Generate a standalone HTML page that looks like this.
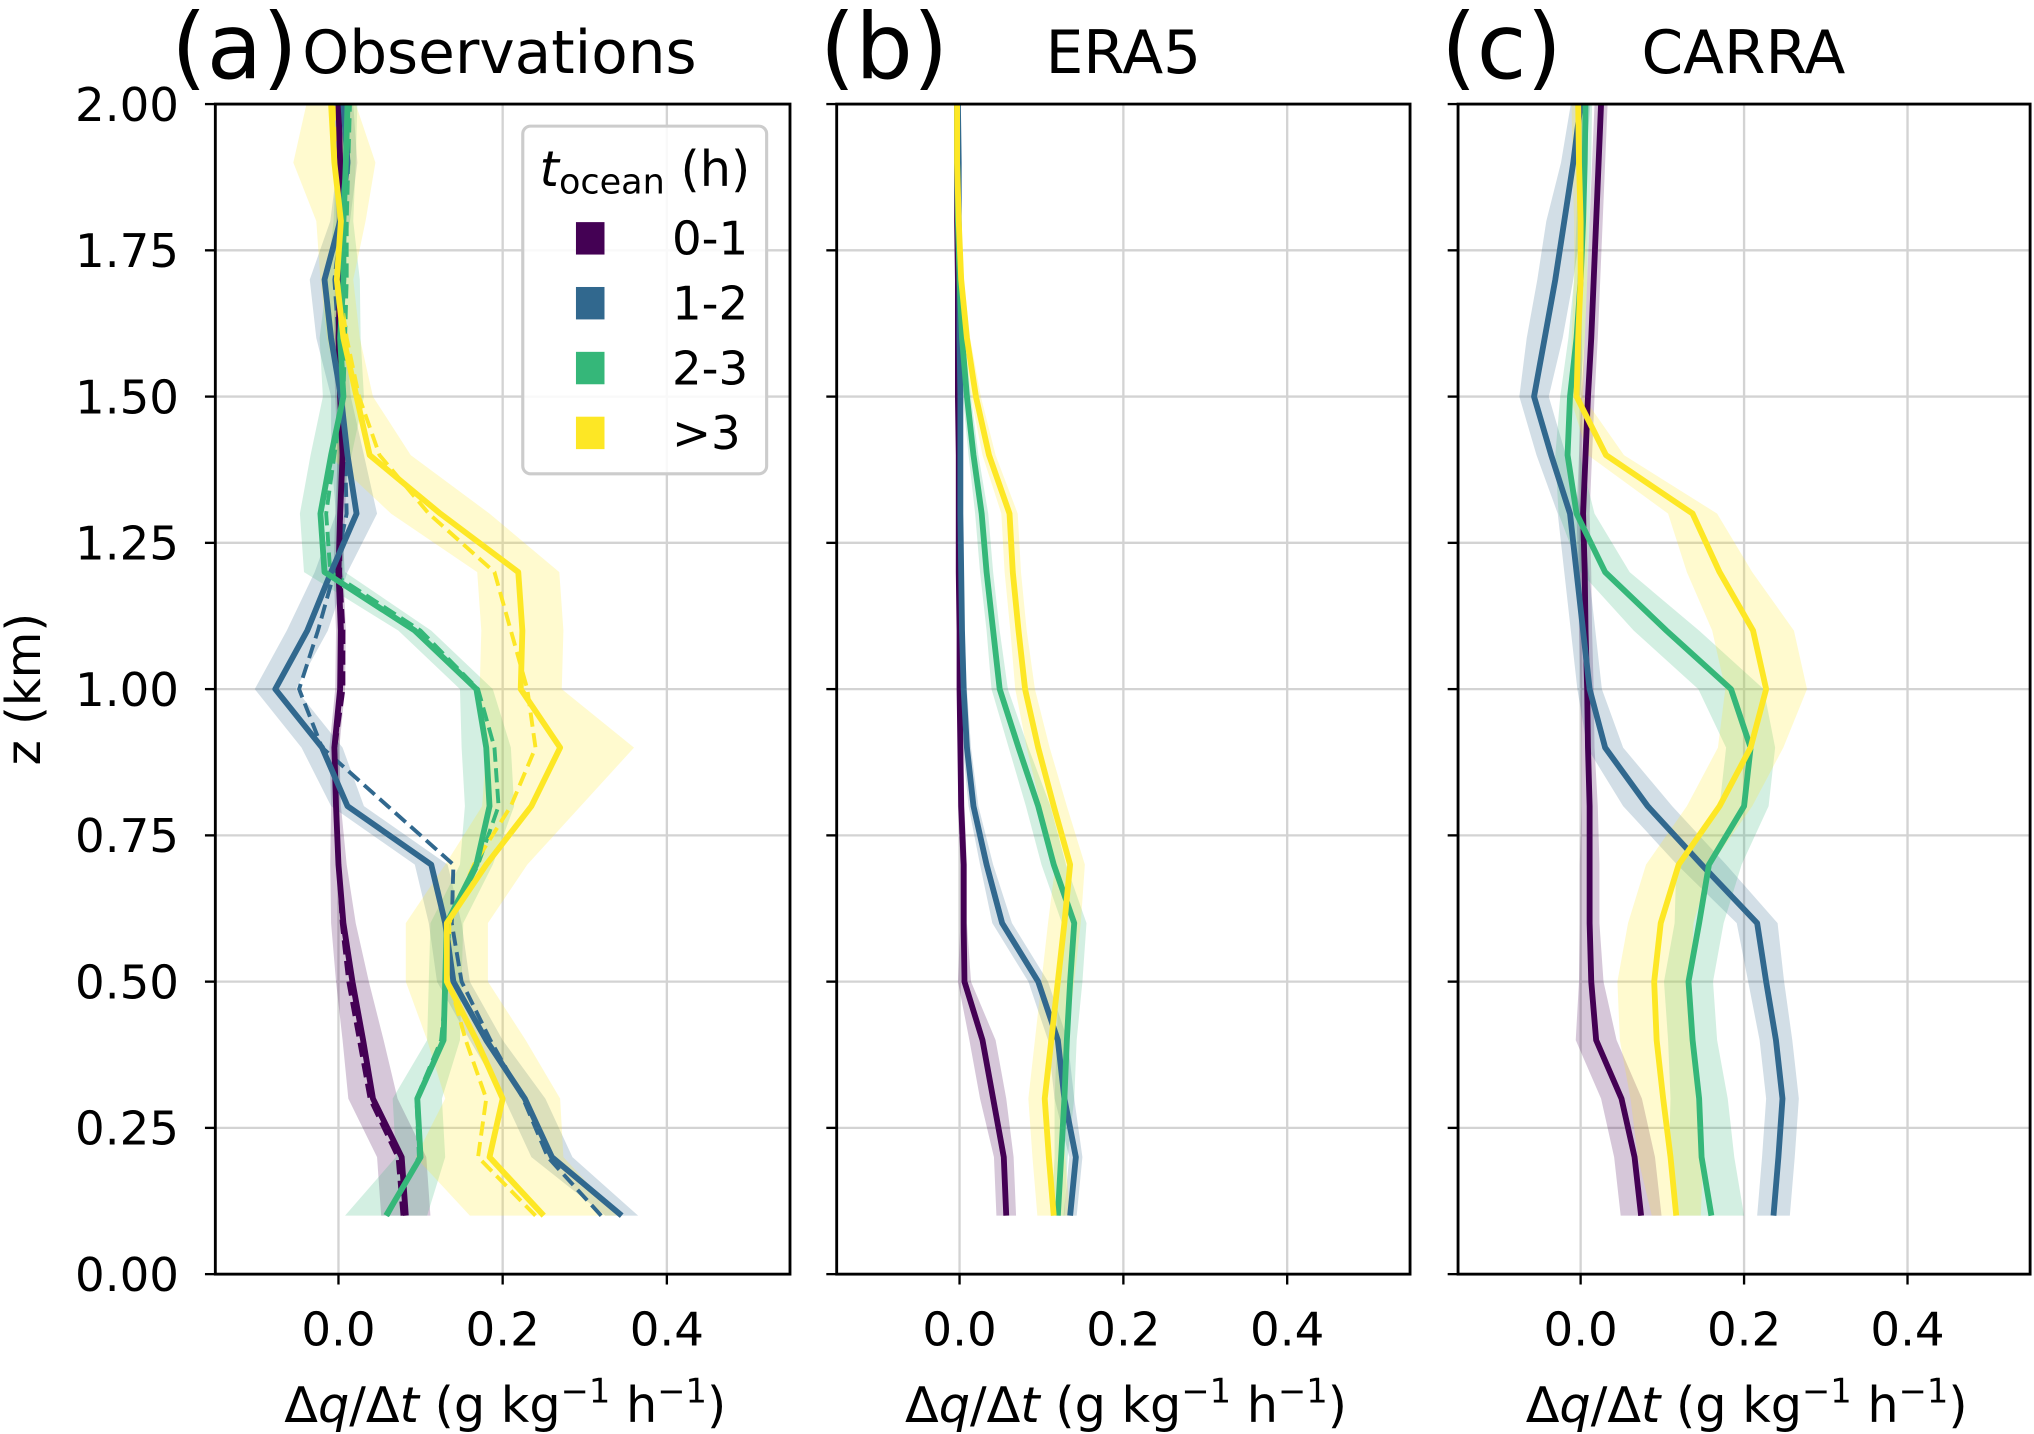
<!DOCTYPE html>
<html><head><meta charset="utf-8"><style>
html,body{margin:0;padding:0;background:#fff;}
svg{display:block;font-family:"DejaVu Sans","Liberation Sans",sans-serif;}
</style></head><body>
<svg id="chart" width="2034" height="1434" viewBox="0 0 1568 1105" xmlns="http://www.w3.org/2000/svg"></svg>
<script>
const zLevels=[0.1,0.2,0.3,0.4,0.5,0.6,0.7,0.8,0.9,1.0,1.1,1.2,1.3,1.4,1.5,1.6,1.7,1.8,1.9,2.0];
const seriesNames=["0-1","1-2","2-3",">3"];
const xTicks=[0.0,0.2,0.4];
const yTicks=[0.00,0.25,0.50,0.75,1.00,1.25,1.50,1.75,2.00];
// Observations
const obs01=[0.082,0.077,0.042,0.030,0.017,0.006,0.000,-0.003,-0.005,0.002,0.003,0.000,0.002,0.005,0.002,0.000,0.002,0.003,0.002,0.000];
const obs12=[0.345,0.260,0.227,0.180,0.140,0.130,0.113,0.011,-0.020,-0.077,-0.038,-0.009,0.022,0.011,0.003,-0.009,-0.017,0.002,0.011,0.006];
const obs23=[0.058,0.100,0.096,0.128,0.130,0.132,0.168,0.184,0.180,0.168,0.093,-0.017,-0.022,-0.009,0.006,0.002,0.006,0.006,0.009,0.011];
const obs3=[0.250,0.184,0.200,0.168,0.132,0.132,0.180,0.235,0.270,0.222,0.224,0.219,0.124,0.038,0.022,0.006,-0.002,0.003,-0.005,-0.009];
const obs01d=[0.078,0.072,0.038,0.025,0.012,0.004,0.000,-0.003,-0.004,0.006,0.006,0.002,0.003,0.004,0.003,0.002,0.004,0.005,0.003,0.001];
const obs12d=[0.320,0.255,0.225,0.185,0.150,0.138,0.140,0.060,-0.020,-0.048,-0.025,-0.005,0.010,0.008,0.004,0.000,-0.005,0.004,0.010,0.008];
const obs23d=[0.060,0.098,0.095,0.125,0.132,0.135,0.170,0.195,0.190,0.170,0.100,-0.010,-0.015,-0.005,0.006,0.008,0.010,0.010,0.012,0.014];
const obs3d=[0.240,0.170,0.180,0.155,0.135,0.135,0.165,0.210,0.240,0.230,0.210,0.190,0.110,0.050,0.025,0.010,0.000,0.003,-0.002,-0.005];
const obsSpread01=[0.03,0.03,0.03,0.025,0.02,0.015,0.01,0.006,0.006,0.006,0.006,0.006,0.006,0.006,0.006,0.006,0.006,0.006,0.006,0.006];
const obsSpread12=[0.02,0.025,0.025,0.02,0.02,0.02,0.02,0.02,0.025,0.025,0.025,0.02,0.025,0.02,0.012,0.018,0.018,0.012,0.012,0.012];
const obsSpread23=[0.05,0.03,0.03,0.02,0.02,0.02,0.02,0.03,0.03,0.02,0.02,0.025,0.025,0.025,0.025,0.025,0.02,0.012,0.012,0.012];
const obsSpread3=[0.09,0.09,0.07,0.06,0.05,0.05,0.05,0.06,0.09,0.05,0.05,0.05,0.06,0.05,0.02,0.02,0.02,0.03,0.05,0.03];
// ERA5
const era01=[0.057,0.054,0.041,0.028,0.006,0.005,0.005,0.002,0.001,0.000,0.000,-0.001,-0.001,-0.001,-0.002,-0.002,-0.002,-0.003,-0.003,-0.003];
const era12=[0.135,0.142,0.128,0.120,0.096,0.052,0.033,0.017,0.009,0.005,0.003,0.002,0.001,0.001,0.001,0.000,0.000,-0.001,-0.001,-0.002];
const era23=[0.120,0.124,0.128,0.131,0.135,0.140,0.115,0.096,0.072,0.049,0.041,0.033,0.027,0.017,0.009,0.003,0.000,-0.002,-0.003,-0.003];
const era3=[0.115,0.109,0.104,0.112,0.120,0.128,0.135,0.115,0.096,0.080,0.072,0.065,0.061,0.036,0.020,0.009,0.002,-0.001,-0.003,-0.003];
const eraSpread01=[0.012,0.012,0.016,0.016,0.008,0.004,0.004,0.004,0.003,0.002,0.002,0.002,0.002,0.002,0.002,0.002,0.002,0.002,0.002,0.002];
const eraSpread12=[0.008,0.008,0.012,0.012,0.012,0.012,0.008,0.006,0.005,0.004,0.003,0.003,0.002,0.002,0.002,0.002,0.002,0.002,0.002,0.002];
const eraSpread23=[0.008,0.008,0.012,0.012,0.015,0.015,0.015,0.015,0.012,0.01,0.008,0.008,0.008,0.006,0.005,0.003,0.002,0.002,0.002,0.002];
const eraSpread3=[0.02,0.02,0.02,0.02,0.02,0.02,0.018,0.016,0.014,0.012,0.01,0.01,0.01,0.008,0.006,0.004,0.003,0.002,0.002,0.002];
// CARRA
const car01=[0.074,0.066,0.050,0.019,0.013,0.011,0.011,0.011,0.009,0.008,0.006,0.005,0.003,0.006,0.009,0.013,0.016,0.019,0.022,0.025];
const car12=[0.236,0.242,0.247,0.239,0.227,0.216,0.148,0.082,0.030,0.011,0.003,-0.005,-0.013,-0.036,-0.057,-0.044,-0.031,-0.020,-0.009,0.000];
const car23=[0.160,0.148,0.145,0.137,0.132,0.145,0.157,0.200,0.208,0.184,0.105,0.030,-0.005,-0.016,-0.013,-0.005,0.000,0.003,0.005,0.006];
const car3=[0.117,0.110,0.101,0.093,0.090,0.098,0.120,0.170,0.208,0.227,0.211,0.170,0.137,0.031,-0.005,-0.003,0.000,0.000,-0.002,-0.003];
const carSpread01=[0.025,0.025,0.025,0.025,0.015,0.012,0.012,0.01,0.008,0.008,0.008,0.008,0.008,0.008,0.008,0.008,0.008,0.008,0.008,0.008];
const carSpread12=[0.02,0.02,0.02,0.02,0.022,0.025,0.03,0.03,0.022,0.015,0.015,0.015,0.015,0.018,0.018,0.022,0.022,0.022,0.015,0.012];
const carSpread23=[0.04,0.04,0.035,0.03,0.03,0.03,0.04,0.03,0.03,0.04,0.04,0.03,0.022,0.015,0.012,0.01,0.008,0.008,0.008,0.008];
const carSpread3=[0.03,0.04,0.04,0.045,0.045,0.04,0.04,0.04,0.04,0.05,0.05,0.04,0.03,0.022,0.008,0.008,0.008,0.008,0.008,0.008];

const colors=["#440154","#31688e","#35b779","#fde725"];
const NS="http://www.w3.org/2000/svg";
const svg=document.getElementById("chart");
const XMIN=-0.15,XMAX=0.55,YTOP=80,YBOT=982;
const panels=[
 {id:"a",left:166,right:609,label:"(a)",labelX:132,title:"Observations",titleX:385,yLabels:true,
  solid:[obs01,obs12,obs23,obs3],dashed:[obs01d,obs12d,obs23d,obs3d],spread:[obsSpread01,obsSpread12,obsSpread23,obsSpread3]},
 {id:"b",left:645,right:1087,label:"(b)",labelX:632,title:"ERA5",titleX:866,yLabels:false,
  solid:[era01,era12,era23,era3],dashed:null,spread:[eraSpread01,eraSpread12,eraSpread23,eraSpread3]},
 {id:"c",left:1124,right:1565,label:"(c)",labelX:1111,title:"CARRA",titleX:1344,yLabels:false,
  solid:[car01,car12,car23,car3],dashed:null,spread:[carSpread01,carSpread12,carSpread23,carSpread3]}
];
function mk(tag,attrs,parent){const e=document.createElementNS(NS,tag);for(const k in attrs)e.setAttribute(k,attrs[k]);(parent||svg).appendChild(e);return e;}
panels.forEach(p=>{
 const xs=v=>p.left+(v-XMIN)/(XMAX-XMIN)*(p.right-p.left);
 const ys=z=>YBOT-(z/2.0)*(YBOT-YTOP);
 const g=mk("g",{});
 
 
 xTicks.forEach(t=>{
  const l=mk("line",{x1:xs(t),x2:xs(t),y1:YTOP,y2:YBOT,stroke:"#d3d3d3","stroke-width":1.8},g);
  
  
  const tk=mk("line",{x1:xs(t),x2:xs(t),y1:YBOT,y2:YBOT+8,stroke:"#000","stroke-width":1.8},g);
  
  
  const tx=mk("text",{x:xs(t),y:YBOT+55,"text-anchor":"middle","font-size":36},g);
  tx.textContent=t.toFixed(1);
  
  
 });
 yTicks.forEach(t=>{
  if(t>0&&t<2){const l=mk("line",{x1:p.left,x2:p.right,y1:ys(t),y2:ys(t),stroke:"#d3d3d3","stroke-width":1.8},g);
  
  }
  const tk=mk("line",{x1:p.left-8,x2:p.left,y1:ys(t),y2:ys(t),stroke:"#000","stroke-width":1.8},g);
  
  
  if(p.yLabels){const tx=mk("text",{x:p.left-28,y:ys(t)+13,"text-anchor":"end","font-size":36},g);
   tx.textContent=t.toFixed(2);
   
   }
 });
 p.solid.forEach((s,i)=>{
  const sp=p.spread[i];
  let pts=zLevels.map((z,k)=>xs(s[k]-sp[k])+","+ys(z));
  for(let k=zLevels.length-1;k>=0;k--)pts.push(xs(s[k]+sp[k])+","+ys(zLevels[k]));
  const b=mk("polygon",{points:pts.join(" "),fill:colors[i],"fill-opacity":0.22,stroke:"none"},g);
  
  
 });
 if(p.dashed)p.dashed.forEach((s,i)=>{
  const l=mk("polyline",{points:zLevels.map((z,k)=>xs(s[k])+","+ys(z)).join(" "),fill:"none",stroke:colors[i],"stroke-width":3,"stroke-dasharray":"11,5"},g);
  
  
 });
 p.solid.forEach((s,i)=>{
  const l=mk("polyline",{points:zLevels.map((z,k)=>xs(s[k])+","+ys(z)).join(" "),fill:"none",stroke:colors[i],"stroke-width":4.5,"stroke-linejoin":"round"},g);
  
  
 });
 const fr=mk("rect",{x:p.left,y:YTOP,width:p.right-p.left,height:YBOT-YTOP,fill:"none",stroke:"#000","stroke-width":2.2},g);
 
 
 const lb=mk("text",{x:p.labelX,y:60,"font-size":70},g);
 lb.textContent=p.label;
 
 
 const tt=mk("text",{x:p.titleX,y:56,"text-anchor":"middle","font-size":46},g);
 tt.textContent=p.title;
 
 
 const xl=mk("text",{x:(p.left+p.right)/2+2,y:1096,"text-anchor":"middle","font-size":38},g);
 xl.innerHTML='Δ<tspan font-style="italic">q</tspan>/Δ<tspan font-style="italic">t</tspan> (g kg<tspan dy="-15" font-size="26">−1</tspan><tspan dy="15"> h</tspan><tspan dy="-15" font-size="26">−1</tspan><tspan dy="15">)</tspan>';
 
 
});
const yl=mk("text",{x:0,y:0,"text-anchor":"middle","font-size":37,transform:"translate(31,531) rotate(-90)"});
yl.textContent="z (km)";


const lg=mk("g",{});


mk("rect",{x:403,y:97,width:188,height:268,rx:6,fill:"#fff","fill-opacity":0.85,stroke:"#cccccc","stroke-width":2.4},lg);
const lt=mk("text",{x:416,y:143,"font-size":38},lg);
lt.innerHTML='<tspan font-style="italic">t</tspan><tspan font-size="27" dy="6">ocean</tspan><tspan dy="-6"> (h)</tspan>';


seriesNames.forEach((n,i)=>{
 const y=183+i*50;
 const r=mk("rect",{x:444,y:y-12,width:22,height:25,fill:colors[i]},lg);
 
 
 const t=mk("text",{x:518,y:y+13,"font-size":36},lg);
 t.textContent=n;
 
 
});
</script>
</body></html>
